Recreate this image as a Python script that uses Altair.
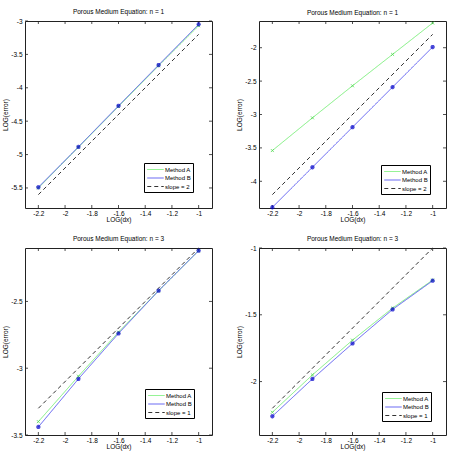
import altair as alt
import pandas as pd

FONT = "Liberation Sans"

# ---- data ----
DX = [-2.2, -1.9, -1.6, -1.3, -1.0]
SLOPE_X = [-2.2, -1.0]
X_TICKS = [-2.2, -2.0, -1.8, -1.6, -1.4, -1.2, -1.0]
X_DOMAIN = [-2.3, -0.9]

TITLES = ["Porous Medium Equation: n = 1", "Porous Medium Equation: n = 1",
          "Porous Medium Equation: n = 3", "Porous Medium Equation: n = 3"]
SLOPE_LABELS = ["slope = 2", "slope = 2", "slope = 1", "slope = 1"]

P1_A = [-5.50, -4.89, -4.28, -3.67, -3.07]
P1_B = [-5.49, -4.885, -4.27, -3.66, -3.05]
P1_SLOPE = [-5.6, -3.2]
P1_YDOM = [-5.8, -3.0]
P1_YTICKS = [-5.5, -5.0, -4.5, -4.0, -3.5, -3.0]

P2_A = [-3.54, -3.05, -2.57, -2.10, -1.63]
P2_B = [-4.39, -3.79, -3.19, -2.59, -1.99]
P2_SLOPE = [-4.2, -1.8]
P2_YDOM = [-4.4, -1.6]
P2_YTICKS = [-4.0, -3.5, -3.0, -2.5, -2.0]

P3_A = [-3.40, -3.06, -2.73, -2.42, -2.12]
P3_B = [-3.44, -3.08, -2.74, -2.42, -2.12]
P3_SLOPE = [-3.3, -2.1]
P3_YDOM = [-3.5, -2.1]
P3_YTICKS = [-3.5, -3.0, -2.5]

P4_A = [-2.23, -1.95, -1.69, -1.45, -1.24]
P4_B = [-2.26, -1.98, -1.715, -1.46, -1.245]
P4_SLOPE = [-2.2, -1.0]
P4_YDOM = [-2.4, -1.0]
P4_YTICKS = [-2.0, -1.5, -1.0]

LEGEND_POS = [(119, 142), (122, 144), (120, 141), (123, 144)]

GREEN = "#7cf07c"
BLUE = "#5c5cf2"
DASH = "#333333"
GREEN_M = "#3fd63f"
BLUE_M = "#0000c8"

W = 187
H = 187
TL = 3  # inward tick length

XSHAPE = "M-0.8,-0.8L0.8,0.8M-0.8,0.8L0.8,-0.8"
STAR = "M-1,0L1,0M0,-1L0,1M-0.7,-0.7L0.7,0.7M-0.7,0.7L0.7,-0.7"


def panel(a, b, slope, slope_label, ydom, yticks, title, lpos):
    rows = []
    for x, v in zip(DX, a):
        rows.append({"x": x, "y": v, "s": "Method A"})
    for x, v in zip(DX, b):
        rows.append({"x": x, "y": v, "s": "Method B"})
    for x, v in zip(SLOPE_X, slope):
        rows.append({"x": x, "y": v, "s": slope_label})
    df = pd.DataFrame(rows)
    dfa = df[df["s"] == "Method A"]
    dfb = df[df["s"] == "Method B"]

    xs = alt.Scale(domain=X_DOMAIN, nice=False, zero=False)
    ys = alt.Scale(domain=ydom, nice=False, zero=False)
    xax = alt.Axis(values=X_TICKS, title="LOG(dx)", ticks=False, domain=False,
                   grid=False, labelExpr="'' + datum.value", labelFontSize=6.5,
                   labelPadding=2, titleFontSize=6.5, titleFontWeight="normal",
                   titlePadding=0, labelFont=FONT, titleFont=FONT,
                   labelColor="black", titleColor="black")
    yax = alt.Axis(values=yticks, title="LOG(error)", ticks=False, domain=False,
                   grid=False, labelExpr="'' + datum.value", labelFontSize=6.5,
                   labelPadding=3, titleFontSize=6.5, titleFontWeight="normal",
                   titlePadding=2, labelFont=FONT, titleFont=FONT,
                   labelColor="black", titleColor="black")
    ex = alt.X("x:Q", scale=xs, axis=xax)
    ey = alt.Y("y:Q", scale=ys, axis=yax)

    dom = ["Method A", "Method B", slope_label]
    leg = alt.Legend(orient="none", legendX=lpos[0], legendY=lpos[1],
                     strokeColor="black", fillColor="white", padding=2,
                     symbolType="M-2.2,0L2.2,0", symbolSize=56,
                     symbolStrokeWidth=1, symbolOffset=5, labelOffset=5,
                     labelFontSize=6, labelFont=FONT, labelColor="black",
                     rowPadding=0.5, cornerRadius=0)
    lines = alt.Chart(df).mark_line(strokeWidth=1).encode(
        x=ex, y=ey,
        color=alt.Color("s:N", title=None,
                        scale=alt.Scale(domain=dom, range=[GREEN, BLUE, DASH]),
                        legend=leg),
        strokeDash=alt.StrokeDash("s:N", title=None,
                                  scale=alt.Scale(domain=dom,
                                                  range=[[1, 0], [1, 0], [4, 3]]),
                                  legend=leg),
    )
    pa = alt.Chart(dfa).mark_point(shape=XSHAPE, size=14, strokeWidth=1,
                                   color=GREEN_M, filled=False).encode(x=ex, y=ey)
    pb = alt.Chart(dfb).mark_point(shape=STAR, size=18, strokeWidth=1.4,
                                   color=BLUE_M, filled=False).encode(x=ex, y=ey)

    xt = pd.DataFrame({"x": X_TICKS})
    yt = pd.DataFrame({"y": yticks})
    tick_style = dict(color="#222222", strokeWidth=0.8)
    t_top = alt.Chart(xt).mark_rule(**tick_style).encode(
        x=ex, y=alt.value(0), y2=alt.value(TL))
    t_bot = alt.Chart(xt).mark_rule(**tick_style).encode(
        x=ex, y=alt.value(H), y2=alt.value(H - TL))
    t_left = alt.Chart(yt).mark_rule(**tick_style).encode(
        y=ey, x=alt.value(0), x2=alt.value(TL))
    t_right = alt.Chart(yt).mark_rule(**tick_style).encode(
        y=ey, x=alt.value(W), x2=alt.value(W - TL))

    return alt.layer(t_top, t_bot, t_left, t_right, lines, pa, pb).properties(
        width=W, height=H,
        title=alt.TitleParams(title, fontSize=6.5, font=FONT, fontWeight="normal",
                              color="black", offset=3, anchor="middle"),
    )


p1 = panel(P1_A, P1_B, P1_SLOPE, SLOPE_LABELS[0], P1_YDOM, P1_YTICKS, TITLES[0], LEGEND_POS[0])
p2 = panel(P2_A, P2_B, P2_SLOPE, SLOPE_LABELS[1], P2_YDOM, P2_YTICKS, TITLES[1], LEGEND_POS[1])
p3 = panel(P3_A, P3_B, P3_SLOPE, SLOPE_LABELS[2], P3_YDOM, P3_YTICKS, TITLES[2], LEGEND_POS[2])
p4 = panel(P4_A, P4_B, P4_SLOPE, SLOPE_LABELS[3], P4_YDOM, P4_YTICKS, TITLES[3], LEGEND_POS[3])

res = dict(x="independent", y="independent", color="independent",
           strokeDash="independent")

chart = alt.concat(p1, p2, p3, p4, columns=2, spacing={"row": 40, "column": 47},
                   bounds="flush").resolve_scale(**res).properties(
    padding={"left": 2, "top": 8, "right": 0, "bottom": 0},
    background="white",
).configure_view(stroke="#222222", strokeWidth=1)

chart.save("out.html", embed_options={"renderer": "svg", "actions": False})
